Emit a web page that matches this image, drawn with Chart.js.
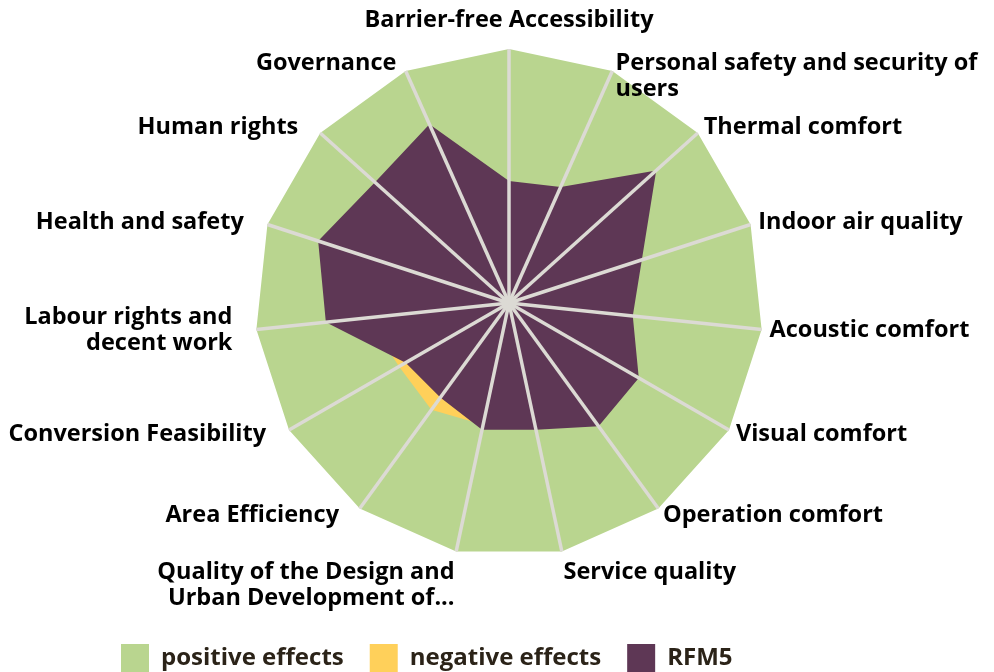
<!DOCTYPE html>
<html>
<head>
<meta charset="utf-8">
<script src="https://cdn.jsdelivr.net/npm/chart.js@4"></script>
<style>
  html, body { margin: 0; padding: 0; background: #fff; }
  #wrap { width: 994px; height: 672px; }
</style>
</head>
<body>
<div id="wrap"><canvas id="myChart"></canvas></div>
<script>
// Categories (clockwise from the top)
const categories = [
  "Barrier-free Accessibility",
  ["Personal safety and security of", "users"],
  "Thermal comfort",
  "Indoor air quality",
  "Acoustic comfort",
  "Visual comfort",
  "Operation comfort",
  "Service quality",
  ["Quality of the Design and", "Urban Development of..."],
  "Area Efficiency",
  "Conversion Feasibility",
  ["Labour rights and", "decent work"],
  "Health and safety",
  "Human rights",
  "Governance"
];

// Series values (percent of the full scale)
const positiveEffects = [100, 100, 100, 100, 100, 100, 100, 100, 100, 100, 100, 100, 100, 100, 100];
const negativeEffects = [30, 30, 40, 40, 40, 45, 45, 45, 49, 52, 50, 56, 50, 45, 40];
const rfm5 = [48, 50, 78, 55, 49, 59, 60, 51, 51, 46, 47, 72.5, 79, 71, 77];

const seriesNames = ["positive effects", "negative effects", "RFM5"];

const labelFont = 'bold 23.5px "Open Sans"';
const lineH = 26;

// category labels round the web, placed from the scale's own point positions
const outerLabels = {
  id: 'outerLabels',
  afterDraw(chart) {
    const scale = chart.scales.r;
    const ctx = chart.ctx;
    ctx.save();
    ctx.font = labelFont;
    ctx.fillStyle = '#000';
    ctx.textBaseline = 'middle';
    categories.forEach((label, i) => {
      const lines = Array.isArray(label) ? label : [label];
      const p = scale.getPointPosition(i, scale.drawingArea + 8);
      const c = Math.cos(p.angle), s = Math.sin(p.angle);
      const h = lines.length * lineH;
      let x = p.x, align = 'center', top;
      if (c > 0.1) align = 'left';
      else if (c < -0.1) {
        align = 'right';
        if (s < -0.85) x -= 6;
        else if (s < 0.95) x -= 16;
      }
      if (s < -0.95) top = p.y - h - 8;
      else if (s > 0.95) top = p.y;
      else if (s < -0.85) top = p.y - lineH / 2;
      else top = p.y - h / 2;
      ctx.textAlign = align;
      lines.forEach((t, k) => ctx.fillText(t, x, top + lineH * (k + 0.5)));
    });
    ctx.restore();
  }
};

// legend sits left of centre in the original
const shiftLegend = {
  id: 'shiftLegend',
  afterLayout(chart) {
    chart.legend.left = 95;
  }
};

new Chart(
  document.getElementById('myChart'),
  {
    type: 'radar',
    data: {
      labels: categories,
      datasets: [
        {
          label: seriesNames[0],
          data: positiveEffects,
          backgroundColor: '#b9d58f',
          borderWidth: 0,
          pointRadius: 0,
          fill: true,
          order: 3
        },
        {
          label: seriesNames[1],
          data: negativeEffects,
          backgroundColor: '#ffd05a',
          borderWidth: 0,
          pointRadius: 0,
          fill: true,
          order: 2
        },
        {
          label: seriesNames[2],
          data: rfm5,
          backgroundColor: '#5e3755',
          borderWidth: 0,
          pointRadius: 0,
          fill: true,
          order: 1
        }
      ]
    },
    options: {
      responsive: true,
      maintainAspectRatio: false,
      animation: false,
      layout: { padding: { top: 49, left: 24, right: 0, bottom: -10 } },
      elements: { line: { tension: 0 } },
      scales: {
        r: {
          min: 0,
          max: 100,
          ticks: { display: false },
          grid: { display: false, z: 1 },
          angleLines: { display: true, color: '#dcdad4', lineWidth: 3.5 },
          pointLabels: { display: false }
        }
      },
      plugins: {
        tooltip: { enabled: false },
        legend: {
          position: 'bottom',
          align: 'start',
          title: { display: true, text: '', font: { size: 10, lineHeight: 1 }, padding: { top: 0, bottom: 50 } },
          labels: {
            boxWidth: 28,
            boxHeight: 28,
            padding: 26,
            color: '#2b2318',
            font: { family: 'Open Sans', weight: 'bold', size: 24 },
            sort: (a, b) => a.datasetIndex - b.datasetIndex
          }
        }
      }
    },
    plugins: [outerLabels, shiftLegend]
  }
);
</script>
</body>
</html>
